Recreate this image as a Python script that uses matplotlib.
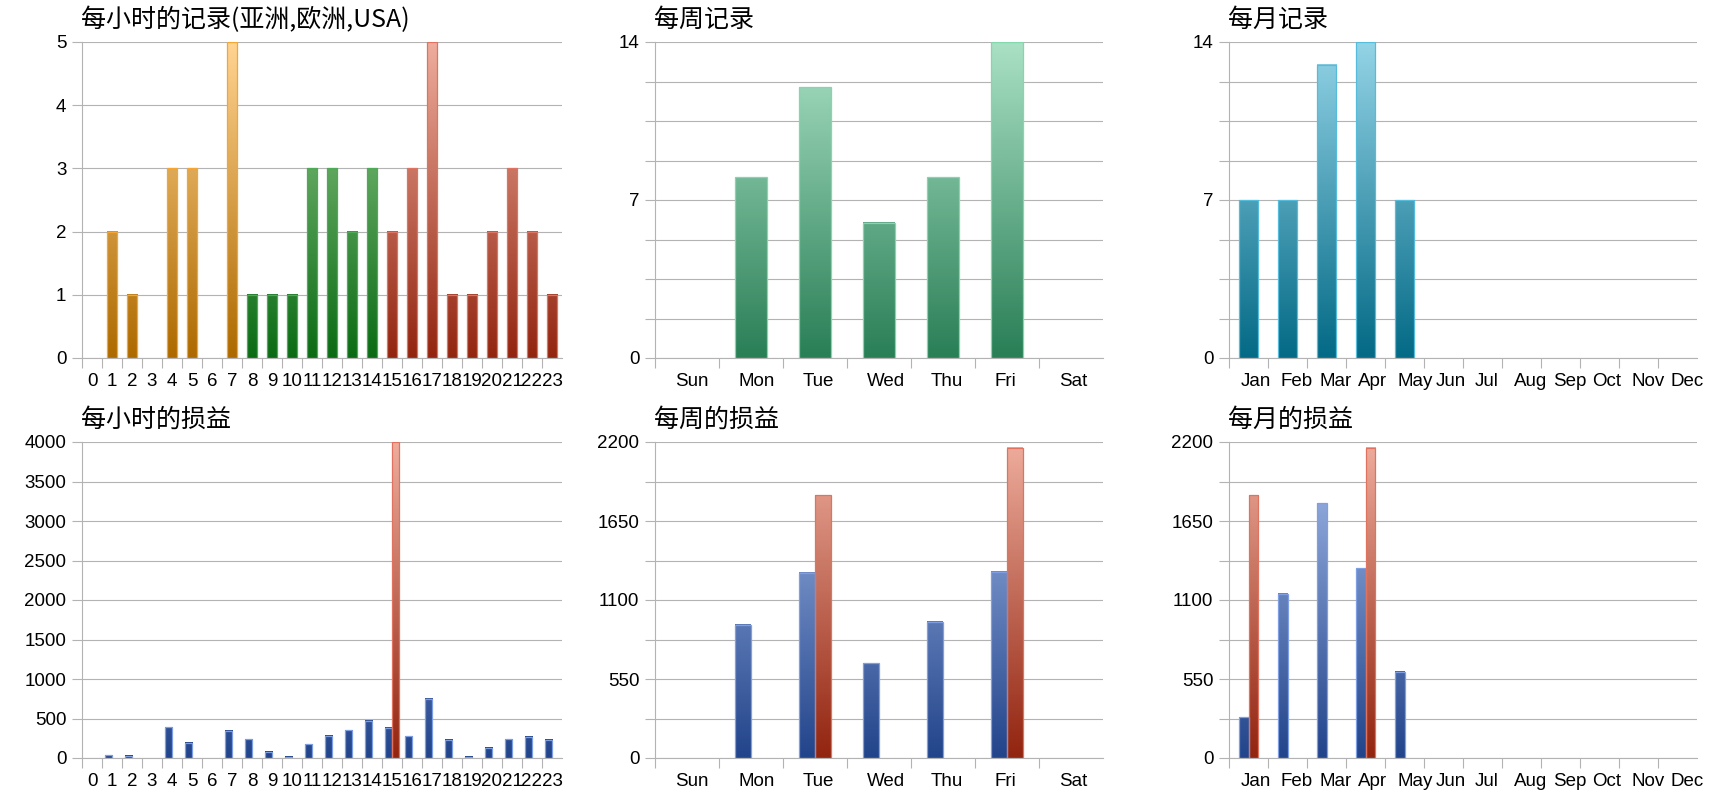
"""Six gradient bar panels: records and P&L per hour / weekday / month."""
import numpy as np

import matplotlib
matplotlib.use("Agg")
import matplotlib.pyplot as plt
from matplotlib.colors import LinearSegmentedColormap

plt.rcParams["font.family"] = ["Liberation Sans", "Noto Sans CJK SC", "DejaVu Sans"]

HOURS = ["0", "1", "2", "3", "4", "5", "6", "7", "8", "9", "10", "11",
         "12", "13", "14", "15", "16", "17", "18", "19", "20", "21", "22", "23"]
DAYS = ["Sun", "Mon", "Tue", "Wed", "Thu", "Fri", "Sat"]
MONTHS = ["Jan", "Feb", "Mar", "Apr", "May", "Jun", "Jul", "Aug", "Sep", "Oct", "Nov", "Dec"]

# records per hour, coloured by session
HOUR_RECORDS = [0, 2, 1, 0, 3, 3, 0, 5, 1, 1, 1, 3, 3, 2, 3, 2, 3, 5, 1, 1, 2, 3, 2, 1]
HOUR_REGION = ["asia", "asia", "asia", "asia", "asia", "asia", "asia", "asia",
               "europe", "europe", "europe", "europe", "europe", "europe", "europe",
               "usa", "usa", "usa", "usa", "usa", "usa", "usa", "usa", "usa"]

# P&L per hour, two series (blue, red)
HOUR_PNL_BLUE = [0, 34, 30, 0, 392, 194, 0, 346, 236, 76, 17, 177, 283, 350,
                 473, 380, 274, 747, 232, 17, 127, 236, 270, 232]
HOUR_PNL_RED = [0, 0, 0, 0, 0, 0, 0, 0, 0, 0, 0, 0, 0, 0,
                0, 4000, 0, 0, 0, 0, 0, 0, 0, 0]

WEEK_RECORDS = [0, 8, 12, 6, 8, 14, 0]
WEEK_PNL_BLUE = [0, 926, 1288, 659, 947, 1295, 0]
WEEK_PNL_RED = [0, 0, 1831, 0, 0, 2161, 0]

MONTH_RECORDS = [7, 7, 13, 14, 7, 0, 0, 0, 0, 0, 0, 0]
MONTH_PNL_BLUE = [283, 1144, 1775, 1320, 599, 0, 0, 0, 0, 0, 0, 0]
MONTH_PNL_RED = [1831, 0, 0, 2161, 0, 0, 0, 0, 0, 0, 0, 0]

W, H = 1720, 800
GRID = "#b3b3b3"
TICK_SIZE = 13.5


def ramp(dark, light):
    return LinearSegmentedColormap.from_list("", [dark, light])


CMAP = {
    "asia": ramp("#ad6a00", "#ffd391"),
    "europe": ramp("#0b6b14", "#95cd8f"),
    "usa": ramp("#922510", "#eeac9c"),
    "week": ramp("#2a7f57", "#a9e0c4"),
    "month": ramp("#046a86", "#93d3e6"),
    "blue": ramp("#22448a", "#a5bceb"),
    "red": ramp("#922510", "#eeac9c"),
}
EDGE = {
    "asia": "#f7a531", "europe": "#4daa55", "usa": "#e0735f",
    "week": "#83d6ad", "month": "#55bddb", "blue": "#7e9fe3", "red": "#e0735f",
}


def px_axes(fig, left, top, right, bottom):
    return fig.add_axes([left / W, 1 - bottom / H, (right - left) / W, (bottom - top) / H])


def gradient_bars(ax, x, heights, width, keys, ymax):
    bars = ax.bar(x, heights, width, facecolor="none",
                  edgecolor=[EDGE[k] for k in keys], linewidth=0.9, zorder=3)
    for rect, key in zip(bars, keys):
        h = rect.get_height()
        if h <= 0:
            rect.set_visible(False)
            continue
        grad = np.linspace(0, h / ymax, 64)[:, None]
        x0 = rect.get_x()
        ax.imshow(grad, cmap=CMAP[key], vmin=0, vmax=1, origin="lower", aspect="auto",
                  extent=(x0, x0 + rect.get_width(), 0, h), interpolation="bilinear", zorder=2)


def style(ax, labels, ymax, ystep, label_every, title, left_labels):
    n = len(labels)
    ax.set_xlim(-0.5, n - 0.5)
    ax.set_ylim(0, ymax)
    yt = np.arange(0, ymax + ystep / 2, ystep)
    ax.set_yticks(yt)
    ax.set_yticklabels([f"{v:g}" if abs(v / label_every - round(v / label_every)) < 1e-6 else ""
                        for v in yt])
    ax.yaxis.grid(True, color=GRID, lw=0.8)
    ax.set_axisbelow(True)
    for s in ("top", "right"):
        ax.spines[s].set_visible(False)
    for s in ("left", "bottom"):
        ax.spines[s].set_color(GRID)
        ax.spines[s].set_linewidth(0.8)
    ax.tick_params(axis="y", direction="out", length=7.2, width=0.8, color=GRID,
                   labelsize=TICK_SIZE, pad=4)
    ax.set_xticks(np.arange(n) - 0.5)
    ax.set_xticklabels([])
    ax.tick_params(axis="x", which="major", direction="out", length=7.2, width=0.8, color=GRID)
    if left_labels:
        ax.set_xticks(np.arange(n) - 0.5 + 0.31, labels=labels, minor=True)
        for t in ax.get_xticklabels(minor=True):
            t.set_ha("left")
    else:
        ax.set_xticks(np.arange(n), labels=labels, minor=True)
    ax.tick_params(axis="x", which="minor", length=0, labelsize=TICK_SIZE, pad=11)
    ax.annotate(title, xy=(0, 1), xycoords="axes fraction", xytext=(-1, 22),
                textcoords="offset pixels", ha="left", va="center", fontsize=18,
                fontweight="light", family=["Noto Sans CJK SC", "DejaVu Sans"])


fig = plt.figure(figsize=(W / 100, H / 100), dpi=100)

cols = [(82, 562), (655, 1103), (1229, 1697)]
rows = [(42, 358), (442, 758)]

# top row: records
ax = px_axes(fig, cols[0][0], rows[0][0], cols[0][1], rows[0][1])
gradient_bars(ax, np.arange(len(HOURS)), HOUR_RECORDS, 0.52, HOUR_REGION, 5)
style(ax, HOURS, 5, 1, 1, "每小时的记录(亚洲,欧洲,USA)", False)

ax = px_axes(fig, cols[1][0], rows[0][0], cols[1][1], rows[0][1])
gradient_bars(ax, np.arange(len(DAYS)), WEEK_RECORDS, 0.5, ["week"] * len(DAYS), 14)
style(ax, DAYS, 14, 1.75, 7, "每周记录", True)

ax = px_axes(fig, cols[2][0], rows[0][0], cols[2][1], rows[0][1])
gradient_bars(ax, np.arange(len(MONTHS)), MONTH_RECORDS, 0.5, ["month"] * len(MONTHS), 14)
style(ax, MONTHS, 14, 1.75, 7, "每月记录", True)

# bottom row: P&L, two series side by side
ax = px_axes(fig, cols[0][0], rows[1][0], cols[0][1], rows[1][1])
x = np.arange(len(HOURS))
gradient_bars(ax, x - 0.185, HOUR_PNL_BLUE, 0.36, ["blue"] * len(HOURS), 4000)
gradient_bars(ax, x + 0.185, HOUR_PNL_RED, 0.36, ["red"] * len(HOURS), 4000)
style(ax, HOURS, 4000, 500, 500, "每小时的损益", False)

ax = px_axes(fig, cols[1][0], rows[1][0], cols[1][1], rows[1][1])
x = np.arange(len(DAYS))
gradient_bars(ax, x - 0.125, WEEK_PNL_BLUE, 0.25, ["blue"] * len(DAYS), 2200)
gradient_bars(ax, x + 0.125, WEEK_PNL_RED, 0.25, ["red"] * len(DAYS), 2200)
style(ax, DAYS, 2200, 275, 550, "每周的损益", True)

ax = px_axes(fig, cols[2][0], rows[1][0], cols[2][1], rows[1][1])
x = np.arange(len(MONTHS))
gradient_bars(ax, x - 0.125, MONTH_PNL_BLUE, 0.25, ["blue"] * len(MONTHS), 2200)
gradient_bars(ax, x + 0.125, MONTH_PNL_RED, 0.25, ["red"] * len(MONTHS), 2200)
style(ax, MONTHS, 2200, 275, 550, "每月的损益", True)

fig.savefig("out.png", dpi=100)
print("wrote out.png")
